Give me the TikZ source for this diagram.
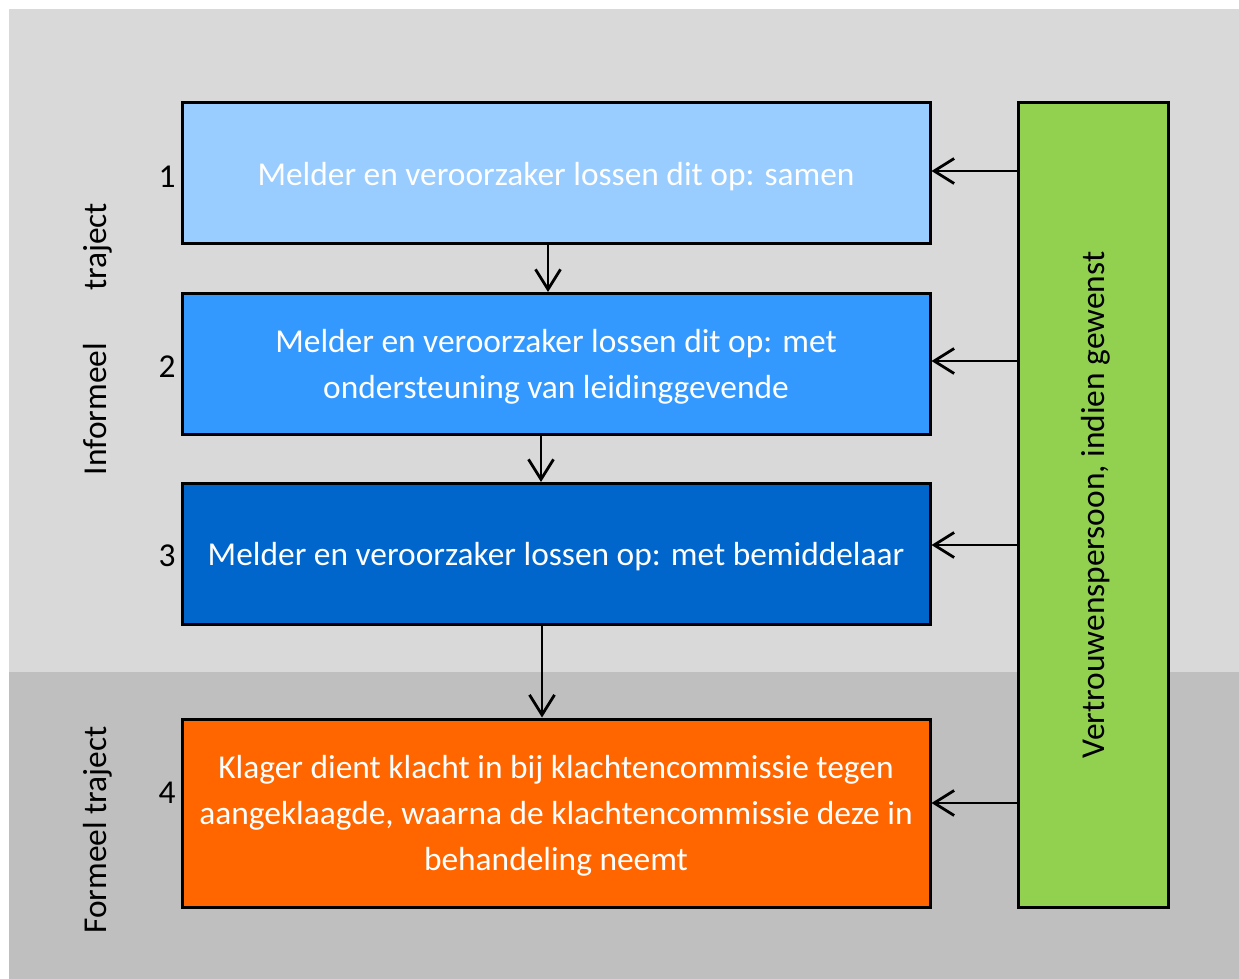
\documentclass[tikz,border=0pt]{standalone}
\usepackage{fontspec}
\setmainfont{Carlito}
\usetikzlibrary{arrows.meta}
\definecolor{grijslicht}{HTML}{D9D9D9}
\definecolor{grijsdonker}{HTML}{BFBFBF}
\definecolor{stapeen}{HTML}{99CCFF}
\definecolor{stapdrie}{HTML}{3399FF}
\definecolor{stapvier}{HTML}{0066CC}
\definecolor{formeel}{HTML}{FF6600}
\definecolor{vertrouwen}{HTML}{92D050}
\begin{document}
\begin{tikzpicture}[x=0.5pt,y=-0.5pt,
  stapbox/.style={draw,line width=1.5pt,minimum width=374pt,minimum height=70.5pt,
    align=center,text=white,text depth=0pt,font=\fontsize{16.7}{23}\selectfont},
  tekst/.style={font=\fontsize{16.7}{23}\selectfont},
  pijl/.style={line width=1.4pt,-{Straight Barb[length=10pt,width=12.5pt]}}]
\useasboundingbox (0,0) rectangle (1239,979);
% achtergrond
\fill [grijslicht](9,9) rectangle (1239,672);
\fill [grijsdonker](9,672) rectangle (1239,979);
% stappen
\node [stapbox,fill=stapeen] (b1) at (556,173.5) {Melder en veroorzaker lossen dit op: samen};
\node [stapbox,fill=stapdrie] (b2) at (556,364) {Melder en veroorzaker lossen dit op: met\\ondersteuning van leidinggevende};
\node [stapbox,fill=stapvier] (b3) at (556,554) {Melder en veroorzaker lossen op: met bemiddelaar};
\node [stapbox,fill=formeel,minimum height=94pt] (b4) at (556,813) {Klager dient klacht in bij klachtencommissie tegen\\aangeklaagde, waarna de klachtencommissie deze in\\behandeling neemt};
\node [draw,line width=1.5pt,fill=vertrouwen,minimum width=75pt,minimum height=402pt] (vp) at (1093,505) {};
\node [tekst,rotate=90] at ([xshift=1.5pt]vp.center) {Vertrouwenspersoon, indien gewenst};
% nummers en trajecten
\node [tekst,anchor=east,inner sep=1pt] (n1) at (178,177) {1};
\node [tekst,anchor=east,inner sep=1pt] (n2) at (178,367) {2};
\node [tekst,anchor=east,inner sep=1pt] (n3) at (178,556) {3};
\node [tekst,anchor=east,inner sep=1pt] (n4) at (178,793) {4};
\node [tekst,rotate=90] (inf) at (98,339) {Informeel\hspace{26pt}traject};
\node [tekst,rotate=90] (form) at (98,830) {Formeel traject};
% pijlen
\draw [pijl]([xshift=-4pt]b1.south) -- ([xshift=-4pt]b2.north);
\draw [pijl]([xshift=-7.5pt]b2.south) -- ([xshift=-7.5pt]b3.north);
\draw [pijl]([xshift=-7pt]b3.south) -- ([xshift=-7pt]b4.north);
\draw [pijl]([yshift=1.25pt]b1.east -| vp.west) -- ([yshift=1.25pt]b1.east);
\draw [pijl]([yshift=1.5pt]b2.east -| vp.west) -- ([yshift=1.5pt]b2.east);
\draw [pijl]([yshift=4.5pt]b3.east -| vp.west) -- ([yshift=4.5pt]b3.east);
\draw [pijl]([yshift=5pt]b4.east -| vp.west) -- ([yshift=5pt]b4.east);
\end{tikzpicture}
\end{document}
